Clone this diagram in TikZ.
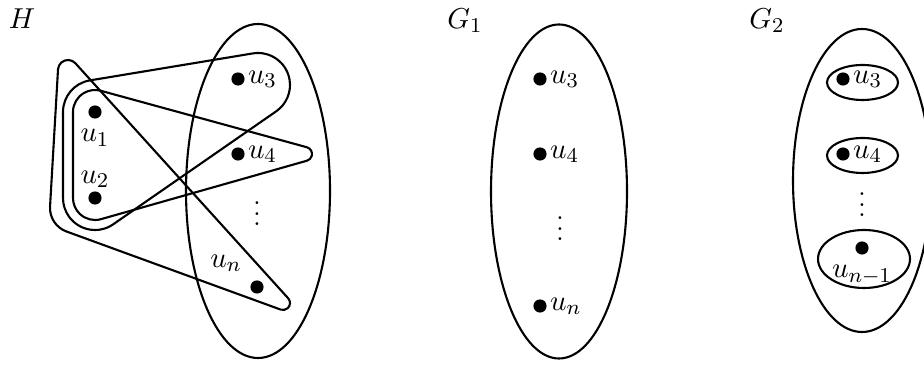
\documentclass[tikz,border=0pt]{standalone}
\usepackage{amsmath,amssymb}
\usepackage{tikz}
\usetikzlibrary{calc}

\begin{document}
\begin{tikzpicture}[x=0.38pt,y=-0.38pt,thick,font=\fontsize{11}{13}\selectfont]
			\tikzset{vtx/.style={circle,fill,inner sep=0pt,minimum size=5pt},
				lab/.style={inner sep=0.5pt},
				vd/.style={inner sep=0pt}}
			\useasboundingbox (0,0) rectangle (924,365);
			\clip (0,0) rectangle (924,365);
			
			\node at (22,19) {$H$};
			\node at (465,21) {$G_1$};
			\node at (767,21) {$G_2$};
			
			% H
			\node[vtx,label=below:$u_1$] (Hu1) at (95,112) {};
			\node[vtx,label={[lab]above:$u_2$}] (Hu2) at (95,198) {};
			\node[vtx,label={[lab]right:$u_3$}] (Hu3) at (238,79) {};
			\node[vtx,label={[lab]right:$u_4$}] (Hu4) at (238,154) {};
			\node[vtx,label=above left:$u_n$] (Hun) at (257,287) {};
			\node[vd] (Hdots) at (257,206) {$\vdots$};
			\draw (258,191) ellipse (72 and 167);
			
			\coordinate (t4) at ($(Hu4)+(67,0)$);
			\coordinate (t3) at ($(Hu3)+(20,6)$);
			\coordinate (tn) at ($(Hun)+(26,16)$);
			\coordinate (a) at (68,70);
			\coordinate (b) at (75,208);
			
			\draw ($(Hu1)+(-74.7:22)$) -- ($(t4)+(-74.7:7)$) arc[start angle=-74.7,end angle=74.2,radius=7]
			-- ($(Hu2)+(74.2:22)$) arc[start angle=74.2,end angle=180,radius=22]
			-- ($(Hu1)+(180:22)$) arc[start angle=180,end angle=285.3,radius=22] -- cycle;
			\draw ($(Hu1)+(-99.4:32)$) -- ($(t3)+(-99.4:32)$) arc[start angle=-99.4,end angle=55.3,radius=32]
			-- ($(Hu2)+(55.3:32)$) arc[start angle=55.3,end angle=180,radius=32]
			-- ($(Hu1)+(180:32)$) arc[start angle=180,end angle=260.6,radius=32] -- cycle;
			\draw ($(a)+(-42.2:10)$) -- ($(tn)+(-42.2:7)$) arc[start angle=-42.2,end angle=110,radius=7]
			-- ($(b)+(110:25)$) arc[start angle=110,end angle=183.3,radius=25]
			-- ($(a)+(183.3:10)$) arc[start angle=183.3,end angle=317.8,radius=10] -- cycle;
			
			% G_1
			\node[vtx,label={[lab]right:$u_3$}] (Au3) at (540,79) {};
			\node[vtx,label={[lab]right:$u_4$}] (Au4) at (540,154) {};
			\node[vtx,label={[lab]right:$u_n$}] (Aun) at (540,306) {};
			\node[vd] (Adots) at (560,221) {$\vdots$};
			\draw (559,191.5) ellipse (68 and 167);
			
			% G_2
			\node[vtx,label={[lab]right:$u_3$}] (Bu3) at (843,79) {};
			\node[vtx,label={[lab]right:$u_4$}] (Bu4) at (843,154) {};
			\node[vtx,label=below:$u_{n-1}$] (Bun) at (862,248) {};
			\node[vd] (Bdots) at (862,197) {$\vdots$};
			\draw (862.5,82.5) ellipse (35.5 and 17.5);
			\draw (862.5,155.5) ellipse (35.5 and 17.5);
			\draw (864,259) ellipse (46 and 29);
			\draw (862,180.5) ellipse (69 and 151.5);
		\end{tikzpicture}
\end{document}
